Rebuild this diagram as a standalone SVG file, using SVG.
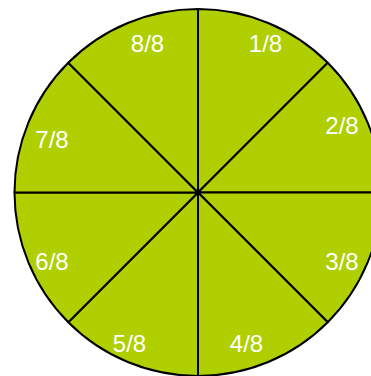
<svg xmlns="http://www.w3.org/2000/svg" width="371" height="376" viewBox="0 0 371 376">
<style>
.s{fill:#afcf00;stroke:#000;stroke-width:2;stroke-linejoin:round}
.t{fill:#fff;font-family:"Liberation Sans",Arial,sans-serif;font-size:24px;text-anchor:middle}
</style>
<rect width="371" height="376" fill="#fff"/>
<g id="s1"><path class="s" d="M198,192.5 L198,9 A183.5,183.5 0 0 1 327.75,62.75 Z"/><text class="t" x="265.5" y="51.5">1/8</text></g>
<g id="s2"><path class="s" d="M198,192.5 L327.75,62.75 A183.5,183.5 0 0 1 381.5,192.5 Z"/><text class="t" x="342" y="134">2/8</text></g>
<g id="s3"><path class="s" d="M198,192.5 L381.5,192.5 A183.5,183.5 0 0 1 327.75,322.25 Z"/><text class="t" x="342" y="269.5">3/8</text></g>
<g id="s4"><path class="s" d="M198,192.5 L327.75,322.25 A183.5,183.5 0 0 1 198,376 Z"/><text class="t" x="246.5" y="351.5">4/8</text></g>
<g id="s5"><path class="s" d="M198,192.5 L198,376 A183.5,183.5 0 0 1 68.25,322.25 Z"/><text class="t" x="129.5" y="351.5">5/8</text></g>
<g id="s6"><path class="s" d="M198,192.5 L68.25,322.25 A183.5,183.5 0 0 1 14.5,192.5 Z"/><text class="t" x="52" y="269.5">6/8</text></g>
<g id="s7"><path class="s" d="M198,192.5 L14.5,192.5 A183.5,183.5 0 0 1 68.25,62.75 Z"/><text class="t" x="52" y="147.5">7/8</text></g>
<g id="s8"><path class="s" d="M198,192.5 L68.25,62.75 A183.5,183.5 0 0 1 198,9 Z"/><text class="t" x="147.5" y="51.5">8/8</text></g>
<g id="connectors"></g>
</svg>
